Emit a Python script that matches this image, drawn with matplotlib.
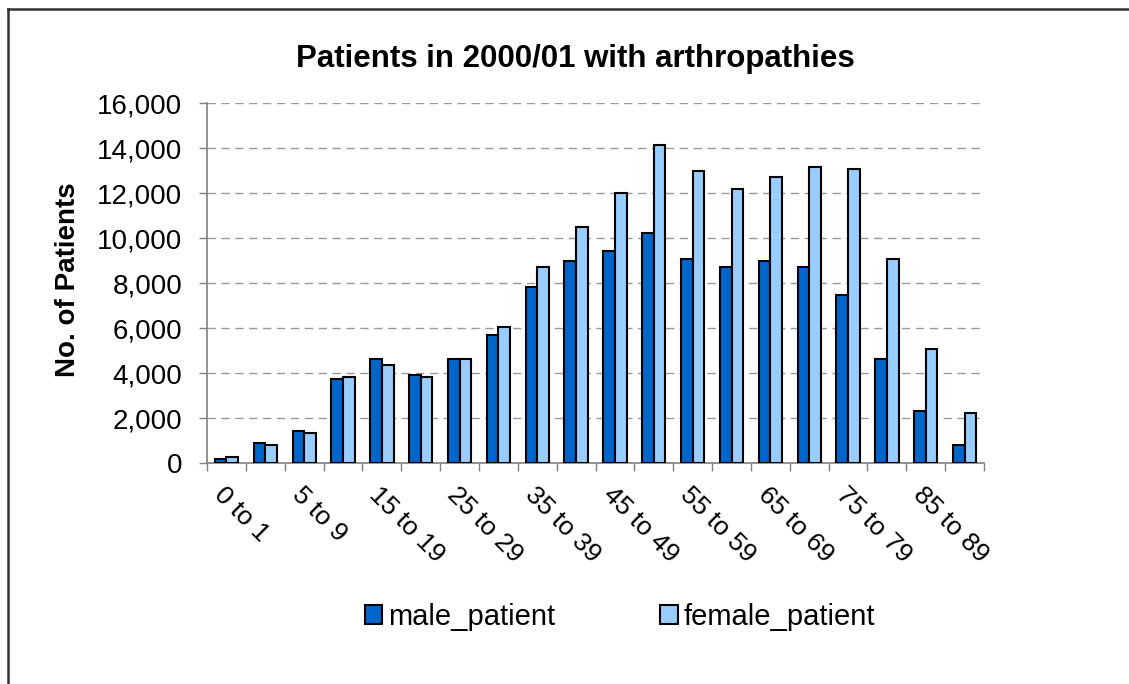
import matplotlib
matplotlib.use('Agg')
import matplotlib.pyplot as plt
import numpy as np
from matplotlib.lines import Line2D
from matplotlib.ticker import FuncFormatter, FixedLocator

# Age bands (only every other one is labelled on the chart)
AGE_BANDS = ['0 to 1', '1 to 4', '5 to 9', '10 to 14', '15 to 19', '20 to 24',
             '25 to 29', '30 to 34', '35 to 39', '40 to 44', '45 to 49',
             '50 to 54', '55 to 59', '60 to 64', '65 to 69', '70 to 74',
             '75 to 79', '80 to 84', '85 to 89', '90 and over']

male_patient = [170, 890, 1420, 3720, 4620, 3900, 4630, 5680, 7810, 8960,
                9410, 10220, 9050, 8700, 8960, 8700, 7470, 4620, 2310, 790]
female_patient = [270, 790, 1350, 3820, 4340, 3820, 4620, 6040, 8700, 10490,
                  11990, 14130, 12980, 12160, 12710, 13160, 13070, 9050, 5070, 2220]

Y_TICKS = [0, 2000, 4000, 6000, 8000, 10000, 12000, 14000, 16000]

MALE_COLOR = '#0066CC'
FEMALE_COLOR = '#99CCFF'

plt.rcParams['font.family'] = ['Liberation Sans', 'DejaVu Sans']

fig = plt.figure(figsize=(11.29, 6.84), dpi=100)
ax = fig.add_axes([0.1834, 0.3231, 0.6882, 0.5263])

x = np.arange(len(AGE_BANDS))
width = 0.3

ax.bar(x - width / 2, male_patient, width, color=MALE_COLOR, edgecolor='black',
       linewidth=1.5, label='male_patient', zorder=3)
ax.bar(x + width / 2, female_patient, width, color=FEMALE_COLOR, edgecolor='black',
       linewidth=1.5, label='female_patient', zorder=3)

ax.set_xlim(-0.5, len(AGE_BANDS) - 0.5)
ax.set_ylim(0, 16000)

# y axis
ax.set_yticks(Y_TICKS)
ax.yaxis.set_major_formatter(FuncFormatter(lambda v, p: '{:,.0f}'.format(v)))
ax.tick_params(axis='y', labelsize=20, length=6, width=1, color='#808080', pad=12)
ax.yaxis.grid(True, linestyle=(0, (6, 4)), color='#999999', linewidth=1, zorder=0)

# x axis: tick marks between groups, labels on every other group
ax.xaxis.set_major_locator(FixedLocator(np.arange(-0.5, len(AGE_BANDS))))
ax.xaxis.set_major_formatter(FuncFormatter(lambda v, p: ''))
ax.tick_params(axis='x', which='major', length=6, width=1, color='#808080')
ax.xaxis.set_minor_locator(FixedLocator(x[::2]))
ax.set_xticklabels(AGE_BANDS[::2], minor=True, rotation=-45, ha='left',
                   va='top', rotation_mode='anchor', fontsize=19)
ax.tick_params(axis='x', which='minor', length=0, pad=14)

for side in ['top', 'right']:
    ax.spines[side].set_visible(False)
for side in ['left', 'bottom']:
    ax.spines[side].set_color('#808080')
    ax.spines[side].set_linewidth(1.2)

fig.text(575 / 1129, 1 - 59 / 684, 'Patients in 2000/01 with arthropathies',
         ha='center', va='center', fontsize=22.5, fontweight='bold')
fig.text(68 / 1129, 1 - 280 / 684, 'No. of Patients', rotation=90,
         ha='center', va='center', fontsize=20, fontweight='bold')

fig.legend(loc='center', bbox_to_anchor=(620 / 1129, 1 - 617 / 684), ncol=2,
           frameon=False, fontsize=21, handlelength=0.6, handleheight=0.6,
           handletextpad=0.2, columnspacing=3.6)

# outer chart border (left and top visible)
fig.add_artist(Line2D([8 / 1129, 8 / 1129], [0, 1 - 9 / 684], color='#333333',
                      linewidth=1.8, transform=fig.transFigure))
fig.add_artist(Line2D([8 / 1129, 1], [1 - 9 / 684, 1 - 9 / 684], color='#333333',
                      linewidth=1.8, transform=fig.transFigure))

fig.savefig('out.png', dpi=100)
